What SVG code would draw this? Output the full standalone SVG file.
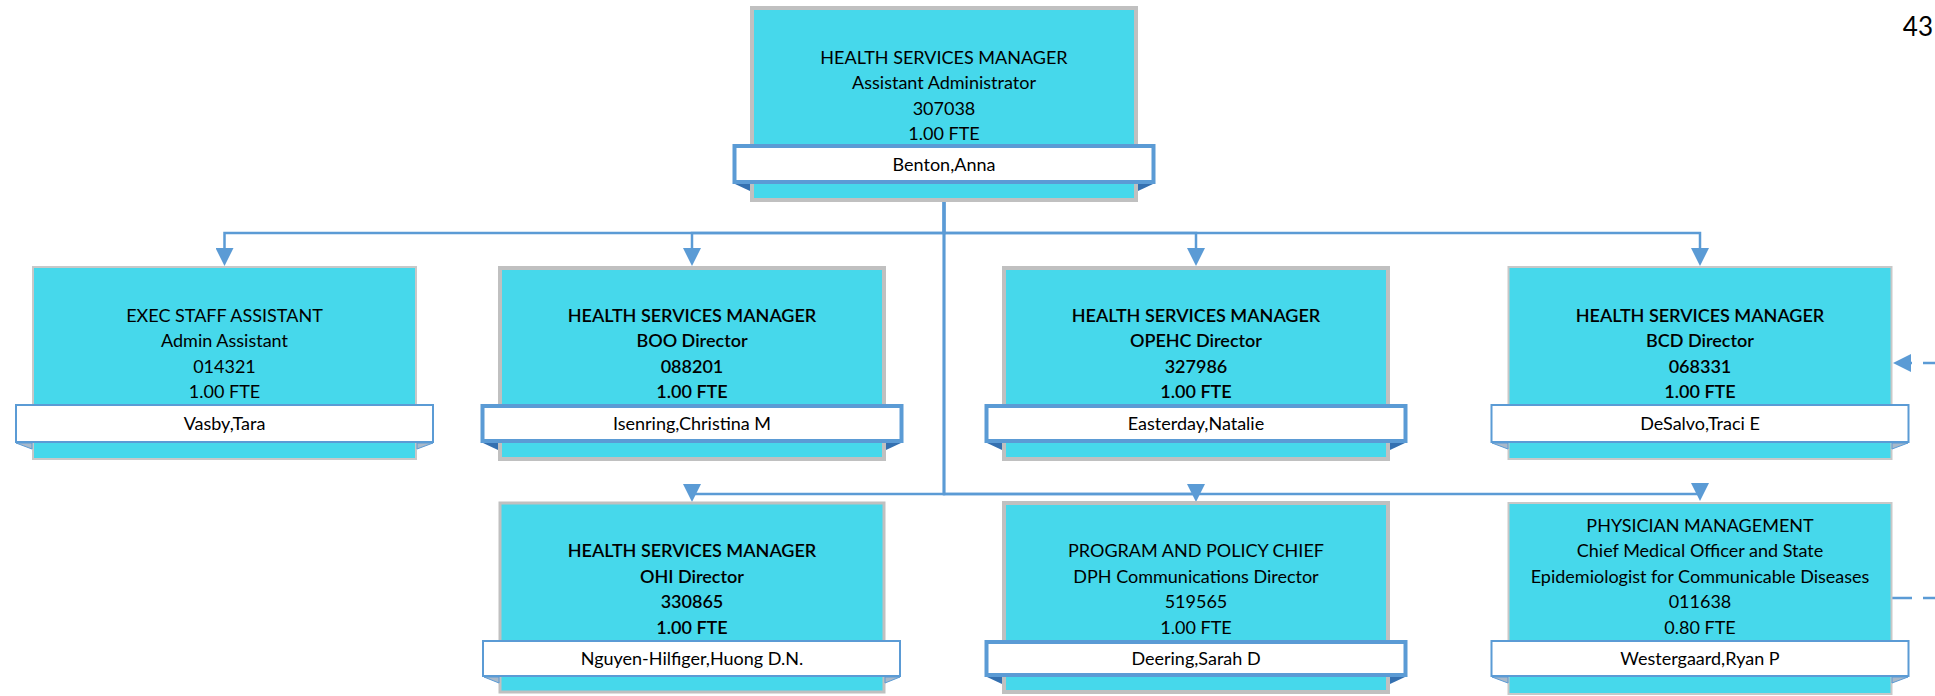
<svg xmlns="http://www.w3.org/2000/svg" width="1935" height="696" viewBox="0 0 1935 696">
<style>
  .box-thick { fill: #46D8EB; stroke: #C0C0C0; stroke-width: 4; }
  .box-thin { fill: #46D8EB; stroke: #C8C8C8; stroke-width: 2; }
  .ban-thick { fill: #FFFFFF; stroke: #5B9BD5; stroke-width: 4; }
  .ban-thin { fill: #FFFFFF; stroke: #5B9BD5; stroke-width: 2; }
  .fold-thick { fill: #3470B0; }
  .fold-thin { fill: #A9B9CA; stroke: #5B9BD5; stroke-width: 1; }
  .t { font-family: Lato, "Liberation Sans", "Noto Sans", sans-serif; font-size: 18px; fill: #000000; text-anchor: middle; }
  .b { font-weight: 600; }
  .conn { fill: none; stroke: #5B9BD5; stroke-width: 2.5; }
  .dash { fill: none; stroke: #5B9BD5; stroke-width: 2.5; }
  .pg { font-family: Lato, "Liberation Sans", sans-serif; font-size: 26px; fill: #000000; text-anchor: end; }
</style>
<defs>
  <marker id="arr" markerUnits="userSpaceOnUse" viewBox="0 0 18 18" markerWidth="18" markerHeight="18" refX="14" refY="9" orient="auto">
    <path d="M0,0 L18,9 L0,18 Z" fill="#5B9BD5"/>
  </marker>
</defs>

<g id="connectors">
  <path class="conn" d="M944,202 V233 H224.5 V262" marker-end="url(#arr)"/>
  <path class="conn" d="M944,202 V233 H692 V262" marker-end="url(#arr)"/>
  <path class="conn" d="M944,202 V233 H1196 V262" marker-end="url(#arr)"/>
  <path class="conn" d="M944,202 V233 H1700 V262" marker-end="url(#arr)"/>
  <path class="conn" d="M944,202 V494 H692 V498" marker-end="url(#arr)"/>
  <path class="conn" d="M944,202 V494 H1196 V498" marker-end="url(#arr)"/>
  <path class="conn" d="M944,202 V494 H1700 V497" marker-end="url(#arr)"/>
  <path class="dash" d="M1945,363 H1897" stroke-dasharray="22 11" marker-end="url(#arr)"/>
  <path class="dash" d="M1892,598 H1945" stroke-dasharray="20 11"/>
</g>

<g id="node-benton">
  <rect class="box-thick" x="752" y="8" width="384" height="192"/>
  <text class="t" x="944" y="63.5">HEALTH SERVICES MANAGER</text>
  <text class="t" x="944" y="89">Assistant Administrator</text>
  <text class="t" x="944" y="114.5">307038</text>
  <text class="t" x="944" y="140">1.00 FTE</text>
  <polygon class="fold-thick" points="735,184 750,184 750,191"/>
  <polygon class="fold-thick" points="1153,184 1138,184 1138,191"/>
  <rect class="ban-thick" x="734.5" y="146" width="419" height="36"/>
  <text class="t" x="944" y="170.5">Benton,Anna</text>
</g>

<g id="node-vasby">
  <rect class="box-thin" x="33" y="267" width="383" height="192"/>
  <text class="t" x="224.5" y="321.5">EXEC STAFF ASSISTANT</text>
  <text class="t" x="224.5" y="347">Admin Assistant</text>
  <text class="t" x="224.5" y="372.5">014321</text>
  <text class="t" x="224.5" y="398">1.00 FTE</text>
  <polygon class="fold-thin" points="16,443 32,443 32,449"/>
  <polygon class="fold-thin" points="433,443 417,443 417,449"/>
  <rect class="ban-thin" x="16" y="405" width="417" height="37"/>
  <text class="t" x="224.5" y="430">Vasby,Tara</text>
</g>

<g id="node-isenring">
  <rect class="box-thick" x="500" y="268" width="384" height="191"/>
  <text class="t b" x="692" y="321.5">HEALTH SERVICES MANAGER</text>
  <text class="t b" x="692" y="347">BOO Director</text>
  <text class="t b" x="692" y="372.5">088201</text>
  <text class="t b" x="692" y="398">1.00 FTE</text>
  <polygon class="fold-thick" points="483,443 498,443 498,450"/>
  <polygon class="fold-thick" points="901,443 886,443 886,450"/>
  <rect class="ban-thick" x="482.5" y="406" width="419" height="35"/>
  <text class="t" x="692" y="430">Isenring,Christina M</text>
</g>

<g id="node-easterday">
  <rect class="box-thick" x="1004" y="268" width="384" height="191"/>
  <text class="t b" x="1196" y="321.5">HEALTH SERVICES MANAGER</text>
  <text class="t b" x="1196" y="347">OPEHC Director</text>
  <text class="t b" x="1196" y="372.5">327986</text>
  <text class="t b" x="1196" y="398">1.00 FTE</text>
  <polygon class="fold-thick" points="987,443 1002,443 1002,450"/>
  <polygon class="fold-thick" points="1405,443 1390,443 1390,450"/>
  <rect class="ban-thick" x="986.5" y="406" width="419" height="35"/>
  <text class="t" x="1196" y="430">Easterday,Natalie</text>
</g>

<g id="node-desalvo">
  <rect class="box-thin" x="1508.5" y="267" width="383" height="192"/>
  <text class="t b" x="1700" y="321.5">HEALTH SERVICES MANAGER</text>
  <text class="t b" x="1700" y="347">BCD Director</text>
  <text class="t b" x="1700" y="372.5">068331</text>
  <text class="t b" x="1700" y="398">1.00 FTE</text>
  <polygon class="fold-thin" points="1492,443 1508,443 1508,449"/>
  <polygon class="fold-thin" points="1908,443 1892,443 1892,449"/>
  <rect class="ban-thin" x="1491.5" y="405" width="417" height="37"/>
  <text class="t" x="1700" y="430">DeSalvo,Traci E</text>
</g>

<g id="node-nguyen">
  <rect class="box-thick" x="500" y="503" width="384" height="189" style="stroke-width:3"/>
  <text class="t b" x="692" y="557">HEALTH SERVICES MANAGER</text>
  <text class="t b" x="692" y="583">OHI Director</text>
  <text class="t b" x="692" y="608">330865</text>
  <text class="t b" x="692" y="634">1.00 FTE</text>
  <polygon class="fold-thin" points="484,677 499,677 499,683"/>
  <polygon class="fold-thin" points="900,677 885,677 885,683"/>
  <rect class="ban-thin" x="483" y="641" width="417" height="35"/>
  <text class="t" x="692" y="665">Nguyen-Hilfiger,Huong D.N.</text>
</g>

<g id="node-deering">
  <rect class="box-thick" x="1004" y="503" width="384" height="189"/>
  <text class="t" x="1196" y="557">PROGRAM AND POLICY CHIEF</text>
  <text class="t" x="1196" y="583">DPH Communications Director</text>
  <text class="t" x="1196" y="608">519565</text>
  <text class="t" x="1196" y="634">1.00 FTE</text>
  <polygon class="fold-thick" points="987,677 1002,677 1002,684"/>
  <polygon class="fold-thick" points="1405,677 1390,677 1390,684"/>
  <rect class="ban-thick" x="986.5" y="642" width="419" height="33"/>
  <text class="t" x="1196" y="665">Deering,Sarah D</text>
</g>

<g id="node-westergaard">
  <rect class="box-thin" x="1508.5" y="503" width="383" height="191"/>
  <text class="t" x="1700" y="532">PHYSICIAN MANAGEMENT</text>
  <text class="t" x="1700" y="557">Chief Medical Officer and State</text>
  <text class="t" x="1700" y="582.5">Epidemiologist for Communicable Diseases</text>
  <text class="t" x="1700" y="608">011638</text>
  <text class="t" x="1700" y="634">0.80 FTE</text>
  <polygon class="fold-thin" points="1492,677 1508,677 1508,683"/>
  <polygon class="fold-thin" points="1908,677 1892,677 1892,683"/>
  <rect class="ban-thin" x="1491.5" y="641" width="417" height="35"/>
  <text class="t" x="1700" y="665">Westergaard,Ryan P</text>
</g>

<text class="pg" x="1933" y="36">43</text>
</svg>
